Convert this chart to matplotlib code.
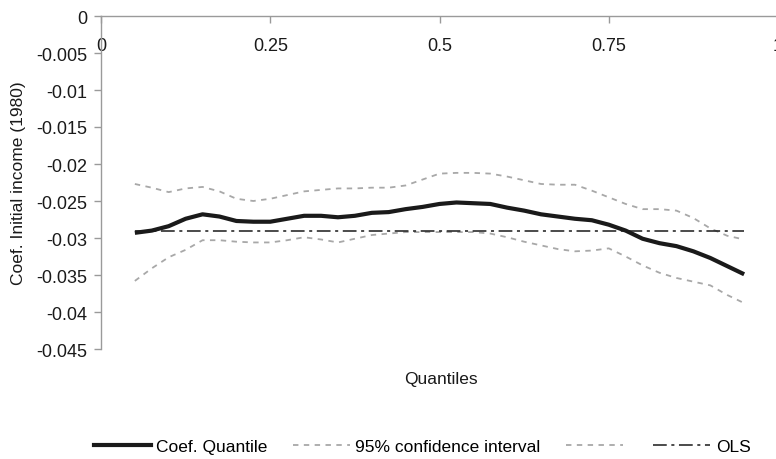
#!/usr/bin/env python3
"""Quantile regression coefficient of initial income (1980) across quantiles."""

import matplotlib

matplotlib.use("Agg")
import matplotlib.pyplot as plt  # noqa: E402
from matplotlib.lines import Line2D  # noqa: E402
from matplotlib.ticker import FuncFormatter, MultipleLocator  # noqa: E402

plt.rcParams["font.family"] = ["Liberation Sans", "DejaVu Sans"]

# ---------------------------------------------------------------------------
# Data
# ---------------------------------------------------------------------------

quantiles = [0.05, 0.075, 0.10, 0.125, 0.15, 0.175, 0.20, 0.225, 0.25, 0.275,
             0.30, 0.325, 0.35, 0.375, 0.40, 0.425, 0.45, 0.475, 0.50, 0.525,
             0.55, 0.575, 0.60, 0.625, 0.65, 0.675, 0.70, 0.725, 0.75, 0.775,
             0.80, 0.825, 0.85, 0.875, 0.90, 0.925, 0.95]
coef_quantile = [-0.0293, -0.0290, -0.0284, -0.0274, -0.0268, -0.0271, -0.0277,
                 -0.0278, -0.0278, -0.0274, -0.0270, -0.0270, -0.0272, -0.0270,
                 -0.0266, -0.0265, -0.0261, -0.0258, -0.0254, -0.0252, -0.0253,
                 -0.0254, -0.0259, -0.0263, -0.0268, -0.0271, -0.0274, -0.0276,
                 -0.0282, -0.0290, -0.0301, -0.0307, -0.0311, -0.0318, -0.0327,
                 -0.0338, -0.0349]
ci_upper = [-0.0227, -0.0232, -0.0238, -0.0233, -0.0231, -0.0237, -0.0247,
            -0.0250, -0.0247, -0.0242, -0.0237, -0.0235, -0.0233, -0.0233,
            -0.0232, -0.0232, -0.0229, -0.0221, -0.0213, -0.0212, -0.0212,
            -0.0213, -0.0217, -0.0222, -0.0227, -0.0228, -0.0228, -0.0236,
            -0.0245, -0.0254, -0.0261, -0.0261, -0.0263, -0.0273, -0.0287,
            -0.0297, -0.0302]
ci_lower = [-0.0358, -0.0341, -0.0326, -0.0316, -0.0303, -0.0303, -0.0305,
            -0.0306, -0.0306, -0.0303, -0.0299, -0.0302, -0.0306, -0.0301,
            -0.0296, -0.0294, -0.0292, -0.0292, -0.0292, -0.0292, -0.0292,
            -0.0294, -0.0299, -0.0305, -0.0310, -0.0315, -0.0318, -0.0317,
            -0.0314, -0.0325, -0.0337, -0.0347, -0.0354, -0.0359, -0.0364,
            -0.0377, -0.0388]
ols_value = -0.0291

legend_labels = ["Coef. Quantile", "95% confidence interval", "", "OLS"]


def fmt(v, _pos=None):
    if abs(v) < 1e-12:
        return "0"
    return f"{v:g}"


fig = plt.figure(figsize=(7.76, 4.60), dpi=100)
ax = fig.add_axes([101 / 776, 1 - 350 / 460, 677 / 776, 333 / 460])

dark = "#1a1a1a"
grey_ci = "#a8a8a8"
ax.plot(quantiles, coef_quantile, color=dark, linewidth=3.0,
        solid_capstyle="butt", zorder=4)
ax.plot(quantiles, ci_upper, color=grey_ci, linewidth=1.3, dashes=(3, 3), zorder=3)
ax.plot(quantiles, ci_lower, color=grey_ci, linewidth=1.3, dashes=(3, 3), zorder=3)
ax.plot([quantiles[0], quantiles[-1]], [ols_value, ols_value],
        color=dark, linewidth=1.1, dashes=(9, 3, 2, 3), zorder=3)

ax.set_xlim(0, 1)
ax.set_ylim(-0.045, 0)
ax.xaxis.set_major_locator(MultipleLocator(0.25))
ax.yaxis.set_major_locator(MultipleLocator(0.005))
ax.xaxis.set_major_formatter(FuncFormatter(fmt))
ax.yaxis.set_major_formatter(FuncFormatter(fmt))

# x axis sits on y = 0, i.e. the top of the plot, with labels below it
ax.spines["bottom"].set_position(("data", 0))
ax.spines["top"].set_visible(False)
ax.spines["right"].set_visible(False)
for side in ("left", "bottom"):
    ax.spines[side].set_color("#9a9a9a")
    ax.spines[side].set_linewidth(1.0)
ax.tick_params(axis="both", colors="#9a9a9a", labelcolor=dark,
               labelsize=13, length=5, width=1.0)
ax.tick_params(axis="x", direction="out", pad=10)
ax.tick_params(axis="y", direction="out", pad=5)

ax.set_ylabel("Coef. Initial income (1980)", fontsize=12.5, color=dark)
ax.yaxis.set_label_coords(-75 / 677, 0.5)
fig.text(441 / 776, 1 - 380 / 460, "Quantiles", ha="center", va="center",
         fontsize=12.5, color=dark)

handles = [
    Line2D([], [], color=dark, linewidth=3.0),
    Line2D([], [], color=grey_ci, linewidth=1.3, dashes=(3, 3)),
    Line2D([], [], color=grey_ci, linewidth=1.3, dashes=(3, 3)),
    Line2D([], [], color=dark, linewidth=1.1, dashes=(9, 3, 2, 3)),
]
fig.legend(handles, legend_labels, loc="center", ncol=4, frameon=False,
           bbox_to_anchor=(422 / 776, 1 - 447 / 460), fontsize=12.5,
           handlelength=3.3, handletextpad=0.3, columnspacing=1.45)

fig.savefig("out.png", dpi=100)
